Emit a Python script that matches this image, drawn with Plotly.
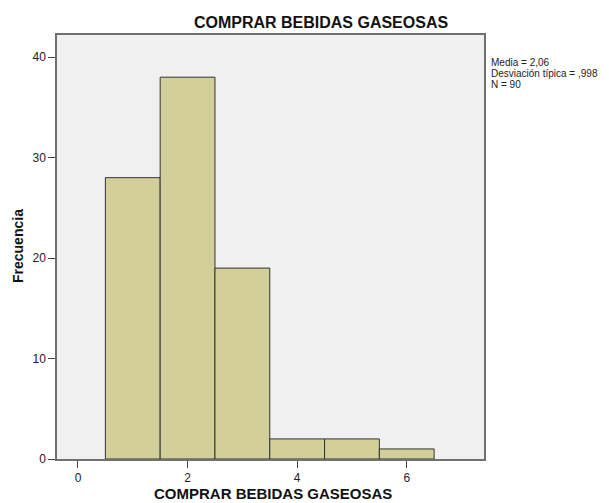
import plotly.graph_objects as go

values = [1, 2, 3, 4, 5, 6]
counts = [28, 38, 19, 2, 2, 1]
x_ticks = [0, 2, 4, 6]
y_ticks = [0, 10, 20, 30, 40]
title = "COMPRAR BEBIDAS GASEOSAS"
y_title = "Frecuencia"
stats_lines = ["Media = 2,06", "Desviación típica = ,998", "N = 90"]

FONT = "Arial, Liberation Sans, sans-serif"

W, H = 601, 495
L, R, T, B = 49, 125, 27, 44
PW, PH = W - L - R, H - T - B

fig = go.Figure()
fig.add_trace(go.Bar(
    x=values, y=counts, width=1,
    marker=dict(color="#d3cf9a", line=dict(color="#333333", width=1)),
    hoverinfo="x+y",
))

fig.update_layout(
    width=W, height=H,
    margin=dict(l=L, r=R, t=T, b=B),
    paper_bgcolor="white",
    plot_bgcolor="#f0f0f0",
    showlegend=False,
    font=dict(family=FONT, size=12, color="#222"),
    title=dict(text="<b>" + title + "</b>", x=313 / W, xanchor="center",
               xref="container", y=1 - 14 / H, yanchor="middle", yref="container",
               font=dict(family=FONT, size=16, color="#111")),
    xaxis=dict(
        range=[-0.383, 7.41], tickvals=x_ticks, ticks="outside", ticklen=7,
        tickcolor="#444", showgrid=False, zeroline=False,
        showline=True, linecolor="#707070", linewidth=1.5, mirror=True,
        tickfont=dict(size=12, color="#222"),
    ),
    yaxis=dict(
        range=[0, 42.2], tickvals=y_ticks, ticks="outside", ticklen=7,
        tickcolor="#444", showgrid=False, zeroline=False,
        showline=True, linecolor="#707070", linewidth=1.5, mirror=True,
        tickfont=dict(size=12, color="#222"),
    ),
)

# axis titles placed precisely as annotations
fig.add_annotation(
    text="<b>" + title + "</b>", xref="paper", yref="paper",
    x=(265 - L) / PW, y=-(485 - (T + PH)) / PH, xanchor="center", yanchor="middle",
    showarrow=False, font=dict(family=FONT, size=15, color="#111"),
)
fig.add_annotation(
    text="<b>" + y_title + "</b>", xref="paper", yref="paper", textangle=-90,
    x=(10 - L) / PW, y=1 - (238 - T) / PH, xanchor="center", yanchor="middle",
    showarrow=False, font=dict(family=FONT, size=14, color="#111"),
)

for i, line in enumerate(stats_lines):
    fig.add_annotation(
        text=line, xref="paper", yref="paper",
        x=(481 - L) / PW, y=1 - (55 + 10.5 * i - T) / PH,
        xanchor="left", yanchor="middle", showarrow=False,
        font=dict(family=FONT, size=10, color="#222"),
    )

fig.write_html("out.html")
